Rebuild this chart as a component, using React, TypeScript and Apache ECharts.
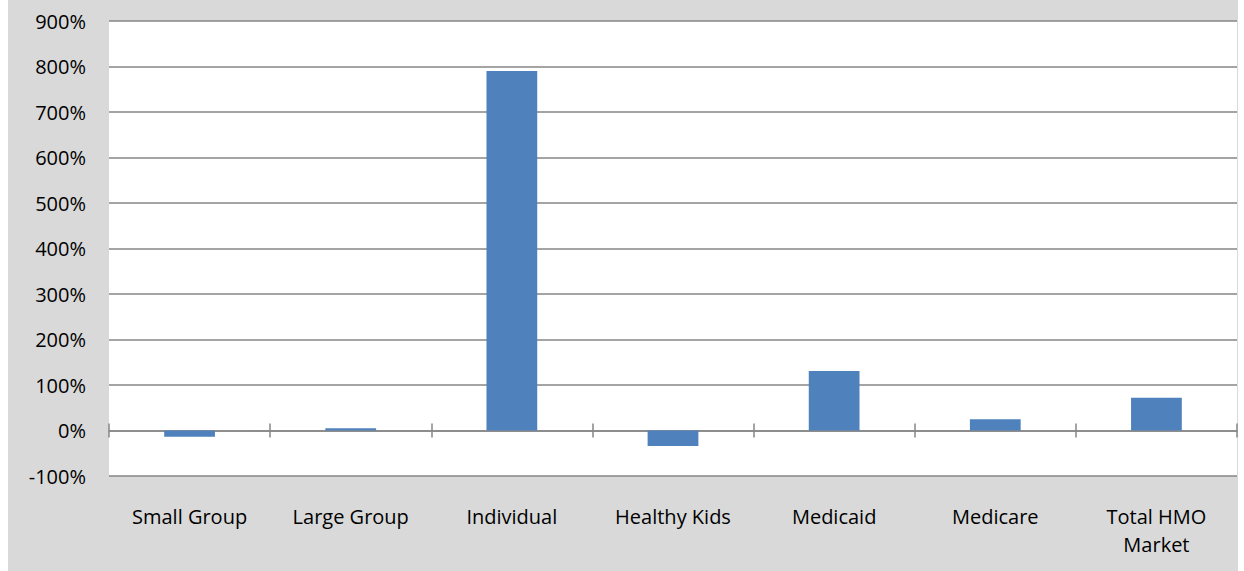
import React, { useEffect, useRef } from "react";
import * as echarts from "echarts";

const categories = ["Small Group", "Large Group", "Individual", "Healthy Kids", "Medicaid", "Medicare", "Total HMO\nMarket"];
const values = [-14, 5, 790, -34, 131, 25, 72];
const yMin = -100;
const yMax = 900;
const yStep = 100;

export default function App() {
  const ref = useRef<HTMLDivElement>(null);
  useEffect(() => {
    if (!ref.current) return;
    const chart = echarts.init(ref.current, null, { renderer: "svg" });
    const font = "'Open Sans', 'Noto Sans', sans-serif";
    const lineColor = "#868686";
    chart.setOption({
      animation: false,
      backgroundColor: "#d9d9d9",
      grid: {
        left: 101,
        right: 1,
        top: 21,
        bottom: 95,
        show: true,
        backgroundColor: "#ffffff",
        borderWidth: 0,
      },
      xAxis: [
        {
          type: "category",
          data: categories,
          position: "bottom",
          axisLine: { show: false, onZero: false },
          axisTick: { show: false },
          axisLabel: { color: "#000", fontFamily: font, fontSize: 20, lineHeight: 28, margin: 26, interval: 0 },
        },
        {
          type: "category",
          data: categories,
          position: "bottom",
          axisLine: { show: true, onZero: true, onZeroAxisIndex: 0, lineStyle: { color: lineColor, width: 1.5 } },
          axisTick: { show: true, length: 7, lineStyle: { color: lineColor, width: 1.5 } },
          axisLabel: { show: false },
        },
        {
          type: "category",
          data: categories,
          position: "bottom",
          axisLine: { show: false, onZero: true, onZeroAxisIndex: 0 },
          axisTick: { show: true, inside: true, length: 7, lineStyle: { color: lineColor, width: 1.5 } },
          axisLabel: { show: false },
        },
      ],
      yAxis: {
        type: "value",
        min: yMin,
        max: yMax,
        interval: yStep,
        axisLine: { show: false },
        axisTick: { show: false },
        splitLine: { show: true, lineStyle: { color: lineColor, width: 1.5 } },
        axisLabel: {
          color: "#000",
          fontFamily: font,
          fontSize: 20,
          margin: 23,
          formatter: (v: number) => `${v}%`,
        },
      },
      series: [
        {
          type: "bar",
          xAxisIndex: 0,
          data: values,
          barWidth: "31.5%",
          itemStyle: { color: "#4f81bd" },
          z: 1,
        },
      ],
    });
    return () => chart.dispose();
  }, []);
  return (
    <div
      ref={ref}
      style={{ position: "absolute", left: 8, top: 0, width: 1230, height: 571 }}
    />
  );
}
